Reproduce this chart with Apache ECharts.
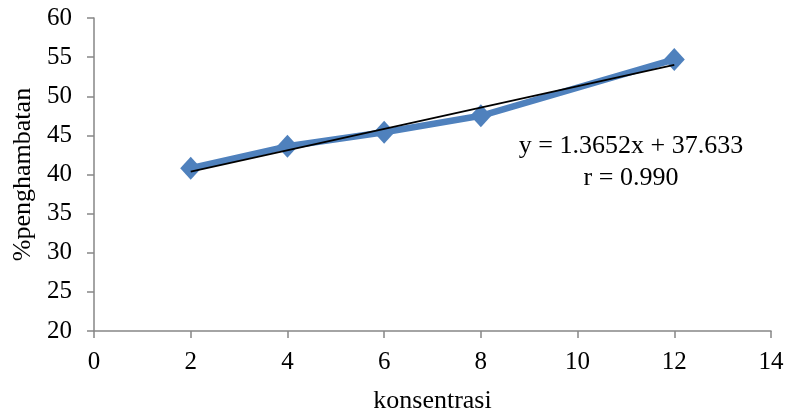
<!DOCTYPE html>
<html>
<head>
<meta charset="utf-8">
<script src="https://cdn.jsdelivr.net/npm/echarts@6/dist/echarts.min.js"></script>
<style>
  html, body { margin: 0; padding: 0; background: #ffffff; }
  #chart { width: 792px; height: 420px; }
</style>
</head>
<body>
<div id="chart"></div>
<script>
// Measured inhibition (%) at each concentration
const konsentrasi = [2, 4, 6, 8, 12];
const penghambatan = [40.8, 43.6, 45.4, 47.5, 54.7];

// Linear regression reported on the chart
const slope = 1.3652;
const intercept = 37.633;
const rValue = '0.990';
const trendX = [2, 12];

const xTicks = { min: 0, max: 14, interval: 2 };
const yTicks = { min: 20, max: 60, interval: 5 };

const serif = '"Liberation Serif", "Times New Roman", serif';
const axisGray = '#868686';

const chart = echarts.init(document.getElementById('chart'), null, { renderer: 'canvas' });

const dataPts = konsentrasi.map((x, i) => [x, penghambatan[i]]);
const trendPts = trendX.map(x => [x, +(slope * x + intercept).toFixed(3)]);

chart.setOption({
  animation: false,
  backgroundColor: '#ffffff',
  grid: { left: 94, right: 21, top: 18, bottom: 89, containLabel: false },
  xAxis: {
    type: 'value',
    min: xTicks.min, max: xTicks.max, interval: xTicks.interval,
    name: 'konsentrasi',
    nameLocation: 'middle',
    nameGap: 57,
    nameTextStyle: { fontFamily: serif, fontSize: 26, color: '#000' },
    axisLine: { show: true, onZero: false, lineStyle: { color: axisGray, width: 1.5 } },
    axisTick: { show: true, inside: false, length: 7, lineStyle: { color: axisGray, width: 1.5 } },
    axisLabel: { fontFamily: serif, fontSize: 25, color: '#000', margin: 19 },
    splitLine: { show: false }
  },
  yAxis: {
    type: 'value',
    min: yTicks.min, max: yTicks.max, interval: yTicks.interval,
    name: '%penghambatan',
    nameLocation: 'middle',
    nameRotate: 90,
    nameGap: 58,
    nameTextStyle: { fontFamily: serif, fontSize: 26, color: '#000' },
    axisLine: { show: true, lineStyle: { color: axisGray, width: 1.5 } },
    axisTick: { show: true, inside: false, length: 7, lineStyle: { color: axisGray, width: 1.5 } },
    axisLabel: { fontFamily: serif, fontSize: 25, color: '#000', margin: 22 },
    splitLine: { show: false }
  },
  series: [
    {
      name: 'penghambatan',
      type: 'line',
      data: dataPts,
      symbol: 'diamond',
      symbolSize: [21, 23],
      lineStyle: { color: '#4F81BD', width: 6.5 },
      itemStyle: { color: '#4F81BD' },
      z: 2
    },
    {
      name: 'trend',
      type: 'line',
      data: trendPts,
      symbol: 'none',
      lineStyle: { color: '#000000', width: 1.8 },
      z: 3
    }
  ],
  graphic: [
    {
      type: 'text',
      x: 631, y: 162,
      style: {
        text: 'y = ' + slope + 'x + ' + intercept + '\nr = ' + rValue,
        fontFamily: serif, fontSize: 26, lineHeight: 32,
        fill: '#000', align: 'center', verticalAlign: 'middle'
      }
    }
  ]
});
</script>
</body>
</html>
